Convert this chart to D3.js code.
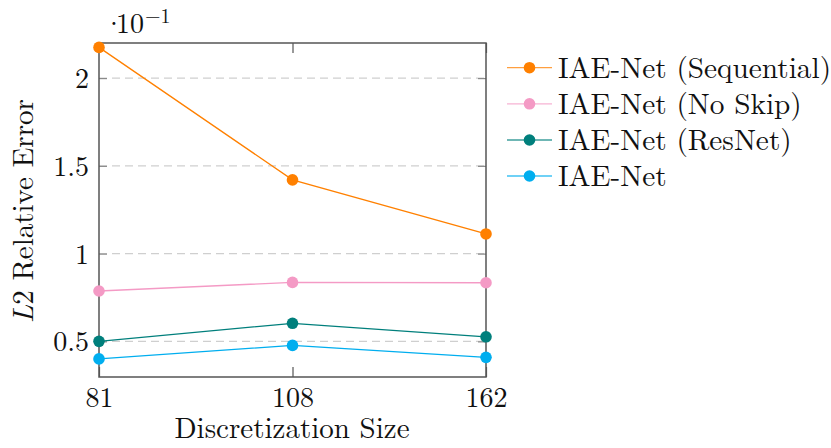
<!DOCTYPE html>
<html><head><meta charset="utf-8">
<script src="https://cdn.jsdelivr.net/npm/d3@7"></script>
<style>html,body{margin:0;padding:0;background:#fff;}</style>
</head>
<body><svg id="c" width="831" height="448" font-family="Latin Modern Roman"></svg>
<script>
const categories = ["81", "108", "162"];
const seriesNames = ["IAE-Net (Sequential)", "IAE-Net (No Skip)", "IAE-Net (ResNet)", "IAE-Net"];
const seqValues = [2.175, 1.42, 1.112];
const noSkipValues = [0.787, 0.836, 0.834];
const resNetValues = [0.50, 0.603, 0.526];
const iaeValues = [0.40, 0.477, 0.409];
const seriesColors = ["#ff8000", "#f49ac5", "#007f7c", "#00aeef"];
const yTicks = [0.5, 1, 1.5, 2];
const yTickLabels = ["0.5", "1", "1.5", "2"];
const yDomain = [0.297, 2.2];

const series = [seqValues, noSkipValues, resNetValues, iaeValues];
const svg = d3.select("#c");
const L = 99, R = 486, T = 43, B = 377;
const FONT = "Latin Modern Roman";
const FS = 28;

const x = d3.scalePoint().domain(categories).range([L, R]);
const y = d3.scaleLinear().domain(yDomain).range([B, T]);

// gridlines
svg.append("g").selectAll("line").data(yTicks).join("line")
  .attr("x1", L).attr("x2", R).attr("y1", d => y(d)).attr("y2", d => y(d))
  .attr("stroke", "#cfcfcf").attr("stroke-width", 1.2).attr("stroke-dasharray", "8,5");

// y axis (left) ticks
const yAxisL = d3.axisLeft(y).tickValues(yTicks).tickFormat((d, i) => yTickLabels[i]).tickSizeInner(-8).tickSizeOuter(0).tickPadding(10);
const gl = svg.append("g").attr("transform", `translate(${L},0)`).call(yAxisL).attr("font-family", FONT).attr("font-size", FS);
gl.select(".domain").remove();
gl.selectAll(".tick line").attr("stroke", "#8a8a8a").attr("stroke-width", 1.2);
gl.selectAll(".tick text").attr("font-family", FONT).attr("font-size", FS).attr("fill", "#111").attr("dy", "0.34em");

const yAxisR = d3.axisRight(y).tickValues(yTicks).tickFormat("").tickSizeInner(-8).tickSizeOuter(0);
const gr = svg.append("g").attr("transform", `translate(${R},0)`).call(yAxisR);
gr.select(".domain").remove();
gr.selectAll(".tick line").attr("stroke", "#8a8a8a").attr("stroke-width", 1.2);

// x axis ticks
const xAxisB = d3.axisBottom(x).tickSizeInner(-10).tickSizeOuter(0).tickPadding(10);
const gb = svg.append("g").attr("transform", `translate(0,${B})`).call(xAxisB).attr("font-family", FONT).attr("font-size", FS);
gb.select(".domain").remove();
gb.selectAll(".tick line").attr("stroke", "#555").attr("stroke-width", 1.2);
gb.selectAll(".tick text").attr("font-family", FONT).attr("font-size", FS).attr("fill", "#111").attr("dy", "0.7em");

const xAxisT = d3.axisTop(x).tickFormat("").tickSizeInner(-10).tickSizeOuter(0);
const gt = svg.append("g").attr("transform", `translate(0,${T})`).call(xAxisT);
gt.select(".domain").remove();
gt.selectAll(".tick line").attr("stroke", "#555").attr("stroke-width", 1.2);

// frame
svg.append("rect").attr("x", L).attr("y", T).attr("width", R - L).attr("height", B - T)
  .attr("fill", "none").attr("stroke", "#555").attr("stroke-width", 1.5);

// series
const line = d3.line().x((d, i) => x(categories[i])).y(d => y(d));
series.forEach((vals, k) => {
  svg.append("path").datum(vals).attr("d", line).attr("fill", "none")
    .attr("stroke", seriesColors[k]).attr("stroke-width", 1.3);
});
series.forEach((vals, k) => {
  svg.append("g").selectAll("circle").data(vals).join("circle")
    .attr("cx", (d, i) => x(categories[i])).attr("cy", d => y(d)).attr("r", 5.8)
    .attr("fill", seriesColors[k]);
});

// scale label
const sl = svg.append("text").attr("y", 33.3).attr("font-size", FS).attr("font-family", FONT).attr("fill", "#111");
sl.append("tspan").attr("x", 103).text("·");
sl.append("tspan").attr("x", 116).text("10");
sl.append("tspan").attr("x", 145).attr("y", 22.7).attr("font-size", 20).text("−1");

// axis titles
svg.append("text").attr("x", 292).attr("y", 438).attr("text-anchor", "middle")
  .attr("font-family", FONT).attr("font-size", 29).attr("fill", "#111").text("Discretization Size");
const yt = svg.append("text").attr("transform", `translate(33,${211}) rotate(-90)`)
  .attr("text-anchor", "middle").attr("font-family", FONT).attr("font-size", 29).attr("fill", "#111");
yt.append("tspan").attr("font-style", "italic").text("L");
yt.append("tspan").text("2 Relative Error");

// legend
const lg = svg.append("g");
const rowY = [67.7, 103.8, 140, 176];
seriesNames.forEach((name, k) => {
  const g = lg.append("g").attr("transform", `translate(0,${rowY[k]})`);
  g.append("line").attr("x1", 507).attr("x2", 552).attr("stroke", seriesColors[k]).attr("stroke-width", 1.3).attr("opacity", 0.75);
  g.append("circle").attr("cx", 529.5).attr("r", 5.8).attr("fill", seriesColors[k]);
  g.append("text").attr("x", 558).attr("y", 9.8).attr("font-family", FONT).attr("font-size", 29.3).attr("fill", "#111").text(name);
});
</script></body></html>
